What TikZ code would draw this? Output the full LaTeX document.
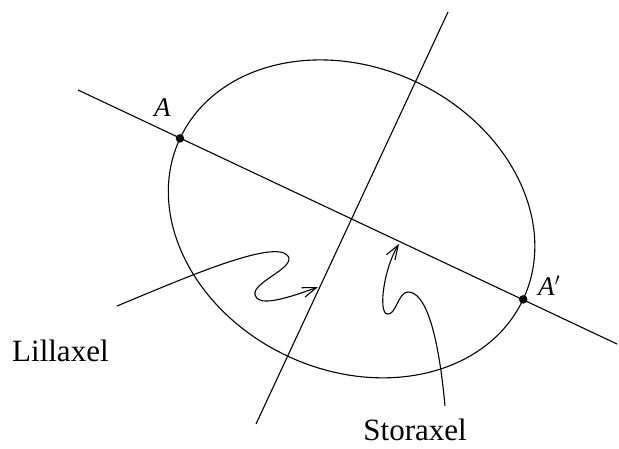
\documentclass[tikz,border=0pt]{standalone}
\usepackage{fontspec}
\setmainfont{Liberation Serif}
\usetikzlibrary{arrows.meta}
\tikzset{
  axis/.style={line width=1.1pt},
  curvearrow/.style={line width=1.1pt,-{Straight Barb[length=14pt,width=10pt,line width=1.1pt]}},
  dot/.style={circle,fill=black,inner sep=0pt,minimum size=8.5pt},
  ptlabel/.style={inner sep=0pt,font=\fontsize{27}{30}\selectfont},
  word/.style={inner sep=0pt,font=\fontsize{31}{37}\selectfont}
}
\begin{document}
\begin{tikzpicture}[x=1pt,y=-1pt]
\useasboundingbox (0,0) rectangle (619,448);
\coordinate (C) at (351.6,218.9);
\coordinate (s1) at (78,90);
\coordinate (e1) at (617,344);
\coordinate (s2) at (256,424);
\coordinate (e2) at (448,12);
\draw[axis,rotate around={-25.14:(C)}] (C) ellipse [x radius=189.5, y radius=151.4];
\draw[axis] (s1) -- (e1);
\draw[axis] (s2) -- (e2);
\node[dot] (A) at (180,138.4) {};
\node[dot] (Ap) at (523.2,299.4) {};
\node[ptlabel,anchor=base west] (lA) at (154,116) {\textit{A}};
\node[ptlabel,anchor=base west] (lAp) at (538,295) {\textit{A}$'$};
\node[word,anchor=base west] (lill) at (12,361) {Lillaxel};
\node[word,anchor=base east] (stor) at (467,440) {Storaxel};
\coordinate (c1s) at (117,306);
\coordinate (c1e) at (318,287);
\coordinate (c2s) at (445,406);
\coordinate (c2e) at (399,244);
\draw[curvearrow] (c1s) .. controls (180,280) and (275,238) .. (288,256)
  .. controls (296,268) and (252,282) .. (255,295)
  .. controls (258,306) and (280,301) .. (c1e);
\draw[curvearrow] (c2s) .. controls (438,330) and (425,292) .. (408,292)
  .. controls (398,292) and (396,316) .. (387,314)
  .. controls (378,312) and (384,268) .. (c2e);
\end{tikzpicture}
\end{document}
